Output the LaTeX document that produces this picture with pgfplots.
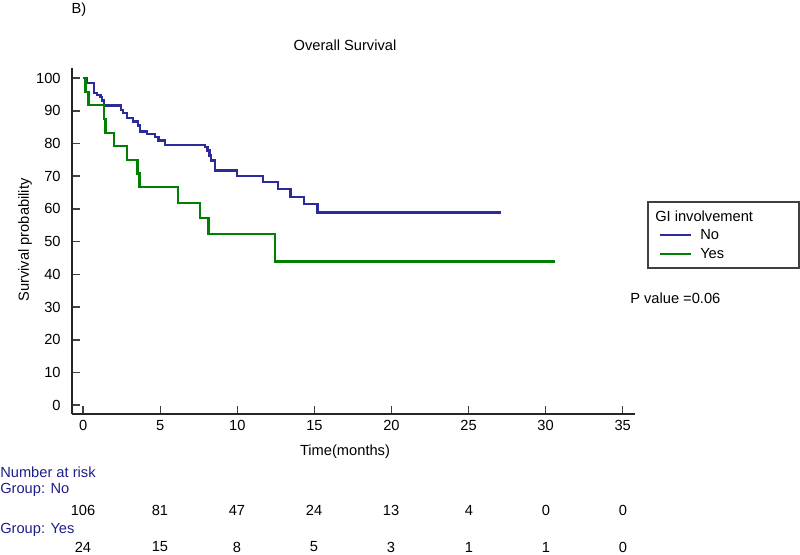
\documentclass[border=0pt]{standalone}
\usepackage{fontspec}
\setmainfont{Liberation Sans}
\usepackage{pgfplots}
\pgfplotsset{compat=1.18}
\definecolor{kmblue}{RGB}{43,43,155}
\definecolor{kmgreen}{RGB}{0,128,0}
\definecolor{txtblue}{RGB}{30,30,140}
\newcommand{\fs}{\fontsize{11}{13}\selectfont}
\begin{document}
\begin{tikzpicture}
\begin{axis}[
  scale only axis, width=422.25pt, height=259.5pt,
  at={(54pt,105.75pt)}, anchor=south west,
  xmin=-0.73, xmax=35.8, ymin=-2.7, ymax=103.1,
  axis x line*=bottom, axis y line*=left,
  axis line style={line width=1.5pt, -, black!85},
  xtick={0,5,...,35}, ytick={0,10,...,100},
  tick align=inside, major tick length=6pt,
  tick style={line width=1.2pt, black!75},
  /pgf/number format/assume math mode=true,
  ticklabel style={font=\fs},
  xticklabel style={yshift=-1pt},
  yticklabel style={xshift=-5pt},
  clip=false,
]
\addplot[const plot, color=kmblue, line width=1.8pt] coordinates {
(0,100) (0.26,98.5) (0.69,95.4) (0.91,94.9) (1.13,94.2) (1.23,93.2) (1.34,91.6)
(2.43,90.3) (2.56,89.3) (2.82,87.8) (3.21,86.7) (3.57,85.5) (3.68,83.7)
(4.12,83.0) (4.66,82.0) (4.87,80.9) (5.31,79.6) (7.90,78.9) (8.05,77.9)
(8.18,76.3) (8.27,74.8) (8.55,71.7) (9.96,70.1) (11.65,68.2) (12.64,66.1)
(13.44,63.7) (14.31,61.5) (15.2,58.9) (27.1,58.9)
};
\addplot[const plot, color=kmgreen, line width=1.8pt] coordinates {
(0,100) (0.15,95.8) (0.33,91.7) (1.36,87.5) (1.45,83.3) (2.0,79.2) (2.84,75.0)
(3.53,70.8) (3.64,66.7) (6.13,61.9) (7.58,57.2) (8.12,52.4) (12.45,43.9) (30.6,43.9)
};
\end{axis}
\begin{scope}[x=0.75pt, y=-0.75pt, yshift=416.25pt]
\path[use as bounding box] (0,0) rectangle (800,555);
\node[font=\fs] at (79,10) {B)};
\node[font=\fs] at (345,45) {Overall Survival};
\node[font=\fs] at (345,452) {Time(months)};
\node[font=\fs, rotate=90] at (25,240) {Survival probability};
% legend
\draw[line width=1.3pt, black!75] (648,202) rectangle (799,268);
\node[font=\fs, anchor=west, inner sep=0pt] at (655,216) {GI involvement};
\draw[kmblue, line width=1.2pt] (660,235) -- (691,235);
\draw[kmgreen, line width=1.2pt] (660,254) -- (691,254);
\node[font=\fs, anchor=west, inner sep=0pt] at (700,235) {No};
\node[font=\fs, anchor=west, inner sep=0pt] at (700,254) {Yes};
\node[font=\fs, anchor=west, inner sep=0pt] at (630,298) {P value =0.06};
% risk table
\node[font=\fs, anchor=west, inner sep=0pt, text=txtblue] at (0,472) {Number at risk};
\node[font=\fs, anchor=west, inner sep=0pt, text=txtblue] at (0,490) {Group: No};
\node[font=\fs, anchor=west, inner sep=0pt, text=txtblue] at (0,530) {Group: Yes};
\foreach \x/\a/\b in {83/106/24, 160/81/15, 237/47/8, 314/24/5, 391/13/3, 469/4/1, 546/0/1, 623/0/0} {
  \node[font=\fs, inner sep=0pt] at (\x,510) {\a};
  \node[font=\fs, inner sep=0pt] at (\x,547) {\b};
}
\end{scope}
\end{tikzpicture}
\end{document}
